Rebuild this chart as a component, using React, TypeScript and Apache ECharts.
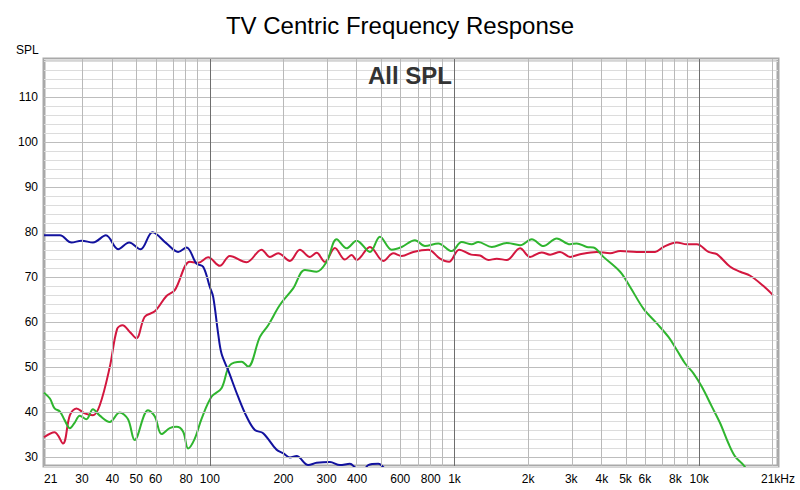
import React, { useEffect, useRef } from 'react';
import * as echarts from 'echarts';

const TITLE = 'TV Centric Frequency Response';
const Y_NAME = 'SPL';
const PANEL_LABEL = 'All SPL';

const X_MIN_HZ = 21;
const X_MAX_HZ = 21000;
const Y_MIN = 28;
const Y_MAX = 118.5;

const X_TICK_FREQS = [21, 30, 40, 50, 60, 80, 100, 200, 300, 400, 600, 800, 1000, 2000, 3000, 4000, 5000, 6000, 8000, 10000, 21000];
const X_TICK_LABELS = ['21', '30', '40', '50', '60', '80', '100', '200', '300', '400', '600', '800', '1k', '2k', '3k', '4k', '5k', '6k', '8k', '10k', '21kHz'];
const X_GRID_FREQS = [30, 40, 50, 60, 70, 80, 90, 200, 300, 400, 500, 600, 700, 800, 900, 2000, 3000, 4000, 5000, 6000, 7000, 8000, 9000, 20000];
const X_DECADE_FREQS = [100, 1000, 10000];
const Y_MAJOR = [30, 40, 50, 60, 70, 80, 90, 100, 110];

// [frequency Hz, SPL dB]
const BLUE: [number, number][] = [
  [21, 79.3], [24.4, 79.3], [27.2, 77.7], [29.9, 78.1], [33.3, 77.7], [37.6, 79.3], [42.2, 76.2],
  [46.8, 77.7], [52.1, 76.2], [58.3, 80], [66.5, 77.5], [74.2, 75.6], [80.3, 76.6], [88.2, 73.0],
  [93.9, 72.3], [100, 67.8], [103.2, 65.6], [108.1, 57.5], [111.6, 53], [118.8, 49.3], [130.5, 43.4],
  [141.3, 39], [152.8, 36], [165.2, 35.3], [187.5, 31.6], [200, 30.8], [212.4, 29.9], [226.2, 30.2],
  [252.4, 28.2], [273.2, 28.7], [309.6, 28.9], [340.2, 28.2], [373.8, 28.5], [391.7, 27.7],
  [418.5, 26.5], [444, 28.2], [487.9, 28.5], [534.6, 26.5], [600, 24],
];

const RED: [number, number][] = [
  [21, 34.4], [23.2, 35.5], [25.1, 33], [26.8, 39.3], [28.5, 40.8], [30.8, 39.7], [33.3, 39.3],
  [35.5, 41.5], [39, 50], [41.8, 58.5], [44, 59.3], [47.1, 57.8], [50.1, 56.4], [54.2, 61.2],
  [59.6, 62.4], [66.5, 65.8], [71.9, 67.1], [82.8, 73.4], [89.6, 73.2], [98.4, 74.4], [109.9, 72.5],
  [120.7, 74.7], [141.3, 73.3], [162.7, 76.1], [176, 74.5], [190.3, 75.3], [212.4, 73.6],
  [233.4, 76.1], [256.4, 74.5], [273.2, 75.4], [295.3, 73.4], [324.5, 76.5], [356.6, 73.9],
  [379.8, 74.9], [398.1, 73.8], [451.2, 76.7], [511.5, 73.6], [562, 75.3], [608.1, 74.7],
  [678.5, 75.6], [781.2, 76.1], [872.5, 74.1], [950, 73.4], [1045, 76.1], [1170, 75.0],
  [1272, 74.8], [1375, 73.8], [1488, 74.1], [1635, 73.8], [1853, 76.4], [2036, 74.5], [2273, 75.5],
  [2459, 75.0], [2700, 75.6], [2968, 74.5], [3261, 75.1], [3815, 75.6], [4325, 75.3], [4753, 75.8],
  [5563, 75.6], [6607, 75.6], [7145, 76.7], [8103, 77.7], [8906, 77.3], [9786, 77.3], [10914, 75.6],
  [11815, 75.1], [13394, 72.3], [14716, 71.2], [16170, 70.3], [18323, 68], [20020, 66],
];

const GREEN: [number, number][] = [
  [21, 44.3], [22.2, 43], [23.2, 40.8], [24.4, 40.1], [25.5, 38.2], [26.8, 36.4], [28, 37.6],
  [29.4, 39.2], [31.3, 38.4], [33.3, 40.6], [35.5, 39.2], [39, 37.8], [42.8, 39.9], [46.3, 38.4],
  [49.3, 33.8], [55.9, 40.4], [59.6, 39], [63.5, 35.1], [68.6, 36.4], [73.1, 36.7], [77.8, 35.6],
  [81.5, 31.9], [86.8, 34.1], [92.5, 38.5], [101.6, 43.4], [111.6, 45.3], [120.7, 50.4],
  [134.8, 51.2], [143.4, 50.1], [160.2, 56.7], [173.2, 59.3], [193.3, 63.8], [219.1, 67.5],
  [244.6, 71.6], [273.2, 71.2], [300.1, 73.4], [329.8, 78.4], [362.4, 76.4], [398.1, 78.1],
  [451.2, 75.6], [495.8, 79], [553.5, 76.1], [608.1, 76.7], [689.4, 78.2], [757.3, 76.9],
  [858.5, 77.5], [973.9, 75.8], [1070, 77.8], [1176, 77.3], [1251, 77.8], [1420, 76.7],
  [1635, 77.6], [1853, 77.1], [2069, 78.4], [2308, 76.9], [2618, 78.6], [2968, 77.3], [3160, 77.5],
  [3473, 76.7], [3695, 76.6], [4061, 74.5], [4753, 71.2], [5223, 67.8], [5918, 63], [6714, 59.7],
  [7489, 56.7], [8103, 53.8], [8764, 50.8], [9478, 48.6], [10256, 45.6], [11270, 41.2],
  [12188, 37.5], [13180, 33], [14037, 30.1], [15180, 28.2], [16170, 26],
];

const FONT = '"Liberation Sans", Arial, sans-serif';
const lg = (f: number) => Math.log10(f);
const toXY = (arr: [number, number][]) => arr.map(([f, v]) => [lg(f), v]);

export default function App() {
  const ref = useRef<HTMLDivElement>(null);

  useEffect(() => {
    if (!ref.current) return;
    const chart = echarts.init(ref.current, undefined, { renderer: 'svg' });
    const tickVals = X_TICK_FREQS.map(lg);

    const gridLines: any[] = [];
    X_GRID_FREQS.forEach((f) =>
      gridLines.push({ xAxis: lg(f), lineStyle: { color: '#b9b9b9', width: 1, type: 'solid' } })
    );
    Y_MAJOR.forEach((v) =>
      gridLines.push({ yAxis: v, lineStyle: { color: '#bdbdbd', width: 1, type: 'solid' } })
    );
    X_DECADE_FREQS.forEach((f) =>
      gridLines.push({ xAxis: lg(f), lineStyle: { color: '#6e6e6e', width: 1, type: 'solid' } })
    );

    const curve = (name: string, data: [number, number][], color: string) => ({
      name,
      type: 'line',
      data: toXY(data),
      showSymbol: false,
      smooth: 0.35,
      clip: true,
      z: 3,
      lineStyle: { color, width: 2 },
      itemStyle: { color },
    });

    chart.setOption({
      animation: false,
      backgroundColor: '#ffffff',
      title: {
        text: TITLE,
        left: 'center',
        top: 8,
        textStyle: { fontFamily: FONT, fontSize: 24, fontWeight: 'normal', color: '#000' },
      },
      grid: {
        left: 44,
        right: 22,
        top: 59,
        bottom: 24,
        show: true,
        borderColor: '#a9a9a9',
        borderWidth: 3,
        backgroundColor: '#ffffff',
      },
      xAxis: {
        type: 'value',
        min: lg(X_MIN_HZ),
        max: lg(X_MAX_HZ),
        axisLine: { show: false },
        axisTick: { show: false },
        splitLine: { show: false },
        axisLabel: {
          customValues: tickVals,
          margin: 7,
          color: '#000',
          fontFamily: FONT,
          fontSize: 12,
          alignMinLabel: 'left',
          formatter: (v: number) => {
            const i = tickVals.findIndex((t) => Math.abs(t - v) < 1e-6);
            return i >= 0 ? X_TICK_LABELS[i] : '';
          },
        },
      },
      yAxis: {
        type: 'value',
        min: Y_MIN,
        max: Y_MAX,
        interval: 2,
        axisLine: { show: false },
        axisTick: { show: false },
        splitLine: { show: true, lineStyle: { color: '#dcdcdc', width: 1 } },
        axisLabel: {
          margin: 6,
          color: '#000',
          fontFamily: FONT,
          fontSize: 12,
          formatter: (v: number) => (Y_MAJOR.includes(v) ? String(v) : ''),
        },
      },
      graphic: [
        {
          type: 'text',
          left: 16,
          top: 44,
          style: { text: Y_NAME, fill: '#000', font: `12px ${FONT}` },
        },
        {
          type: 'text',
          x: 410,
          y: 75,
          style: {
            text: PANEL_LABEL,
            fill: '#333333',
            font: `bold 24px ${FONT}`,
            textAlign: 'center',
            textVerticalAlign: 'middle',
          },
          z: 10,
        },
      ],
      series: [
        {
          name: 'grid',
          type: 'line',
          data: [],
          z: 1,
          silent: true,
          markLine: {
            silent: true,
            symbol: ['none', 'none'],
            label: { show: false },
            animation: false,
            data: gridLines,
          },
        },
        curve('Red', RED, '#d3173f'),
        curve('Green', GREEN, '#2fb52f'),
        curve('Blue', BLUE, '#12129e'),
      ],
    });

    return () => chart.dispose();
  }, []);

  return (
    <div
      ref={ref}
      style={{ position: 'absolute', left: 0, top: 0, width: 800, height: 490 }}
    />
  );
}
